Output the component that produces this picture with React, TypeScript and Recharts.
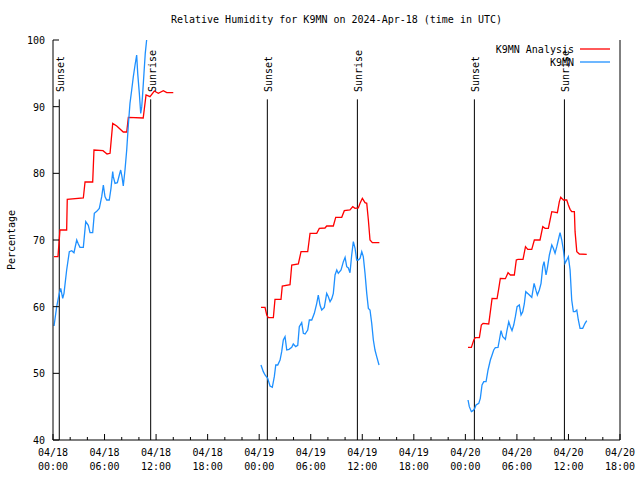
import { LineChart, Line, XAxis, YAxis, ReferenceLine, ReferenceDot, Customized } from 'recharts';

const FONT = '"DejaVu Sans Mono", monospace';
const RED = '#ff0000';
const BLUE = '#1e90ff';

// hours since 2024-04-18 00:00 UTC
const xTicks = [0, 2, 4, 6, 8, 10, 12, 14, 16, 18, 20, 22, 24, 26, 28, 30, 32, 34, 36, 38, 40, 42, 44, 46, 48, 50, 52, 54, 56, 58, 60, 62, 64, 66];
const majorTicks = [0, 6, 12, 18, 24, 30, 36, 42, 48, 54, 60, 66];
const majorDates = ['04/18', '04/18', '04/18', '04/18', '04/19', '04/19', '04/19', '04/19', '04/20', '04/20', '04/20', '04/20'];
const majorTimes = ['00:00', '06:00', '12:00', '18:00', '00:00', '06:00', '12:00', '18:00', '00:00', '06:00', '12:00', '18:00'];
const yTicks = [40, 50, 60, 70, 80, 90, 100];

// K9MN Analysis (red)
const analysisDay1: [number, number][] = [
  [0.12, 67.5], [0.58, 67.5], [0.81, 71.5], [1.59, 71.5], [1.66, 76.1], [3.53, 76.3], [3.73, 78.7], [4.62, 78.7],
  [4.77, 83.5], [5.82, 83.4], [6.29, 82.9], [6.64, 83.0], [6.95, 87.5], [7.42, 87.1], [8.18, 86.2], [8.58, 86.2],
  [8.77, 88.4], [10.5, 88.3], [10.83, 91.75], [11.29, 91.5], [11.79, 92.35], [12.26, 92.0], [12.84, 92.4], [13.24, 92.1], [14.0, 92.1],
];
const analysisDay2: [number, number][] = [
  [24.21, 59.9], [24.68, 59.9], [24.88, 58.75], [25.06, 58.35], [25.65, 58.35], [25.84, 61.1], [26.54, 61.1], [26.69, 63.1],
  [27.59, 63.3], [27.79, 66.25], [28.56, 66.4], [28.87, 68.25], [29.65, 68.25], [29.92, 71], [30.7, 71], [31.0, 71.75],
  [31.66, 71.8], [31.86, 72.1], [32.63, 72.1], [32.91, 73.4], [33.61, 73.4], [33.91, 74.4], [34.57, 74.5], [34.89, 75],
  [35.16, 74.75], [35.54, 74.8], [35.74, 75.5], [36.01, 76.25], [36.32, 75.6], [36.52, 75.5], [36.71, 73], [36.9, 70],
  [37.17, 69.6], [37.99, 69.6],
];
const analysisDay3: [number, number][] = [
  [48.31, 53.9], [48.7, 53.9], [48.98, 55], [49.16, 55.35], [49.63, 55.35], [49.86, 57.25], [50.06, 57.5], [50.72, 57.4],
  [50.91, 59.25], [51.11, 61.25], [51.69, 61.2], [51.89, 62.75], [52.07, 64.25], [52.66, 64.2], [52.97, 65.1], [53.24, 64.75],
  [53.7, 64.75], [53.93, 67], [54.13, 67.1], [54.71, 67.1], [55.0, 69], [55.26, 68.6], [55.73, 68.6], [56.03, 70],
  [56.69, 70], [57.01, 72], [57.28, 71.75], [57.66, 71.75], [57.86, 73], [58.06, 74.25], [58.71, 74.1], [58.94, 75.75],
  [59.1, 76.4], [59.41, 76], [59.8, 76], [59.99, 75.25], [60.19, 74.6], [60.38, 74.25], [60.69, 74.25], [60.77, 71.25],
  [60.97, 68.25], [61.27, 67.9], [62.13, 67.85],
];

// K9MN station (blue)
const stationDay1: [number, number][] = [
  [0.12, 57.1], [0.43, 60], [0.73, 62], [0.9, 62.75], [1.13, 61.25], [1.28, 62], [1.59, 65.5], [1.9, 68.25],
  [2.18, 68.4], [2.44, 68.1], [2.76, 70], [2.95, 69.4], [3.14, 68.9], [3.53, 68.9], [3.81, 72.75], [4.11, 72.2],
  [4.31, 71.1], [4.62, 71.1], [4.81, 74], [5.09, 74.3], [5.39, 74.75], [5.67, 76.5], [5.86, 78.25], [6.05, 76.5],
  [6.25, 76], [6.55, 76], [6.75, 77.75], [6.95, 80.25], [7.02, 79.5], [7.22, 78.5], [7.49, 78.6], [7.72, 79.75],
  [7.88, 80.5], [8.03, 79.5], [8.18, 78.1], [8.38, 80.5], [8.58, 83.5], [8.77, 87.25], [8.96, 90.5], [9.16, 92.5],
  [9.35, 94.5], [9.55, 96.25], [9.74, 97.75], [9.86, 95], [10.05, 92], [10.21, 89], [10.33, 90], [10.44, 92],
  [10.59, 95], [10.74, 98], [10.9, 100], [11.0, 100.6],
];
const stationDay2: [number, number][] = [
  [24.21, 51.25], [24.48, 50.25], [24.68, 49.75], [24.99, 49.25], [25.26, 48.1], [25.53, 47.9], [25.76, 49.5], [25.93, 51.25],
  [26.16, 51.25], [26.43, 52], [26.62, 53.25], [26.81, 55], [27.01, 55.5], [27.21, 53.5], [27.47, 53.6], [27.79, 53.9],
  [27.97, 54.4], [28.25, 54], [28.49, 54.2], [28.67, 57], [28.95, 57.6], [29.14, 56], [29.34, 55.9], [29.65, 56.5],
  [29.84, 58], [30.12, 58], [30.42, 59], [30.7, 60.5], [30.88, 61.75], [31.08, 60.25], [31.28, 59.5], [31.58, 59.9],
  [31.86, 62], [32.05, 61.5], [32.25, 60.75], [32.45, 61.2], [32.63, 62], [32.83, 64.75], [33.03, 65.5], [33.21, 65],
  [33.53, 65.5], [33.8, 66.75], [34.0, 67.4], [34.19, 66], [34.38, 65.8], [34.57, 65.1], [34.77, 67.75], [34.96, 69.75],
  [35.16, 68.75], [35.35, 67], [35.54, 67], [35.74, 67.25], [35.94, 68.25], [36.12, 67.5], [36.32, 65], [36.52, 62],
  [36.71, 59.75], [36.9, 59.5], [37.1, 57.5], [37.29, 55], [37.48, 53.5], [37.68, 52.5], [37.95, 51.25],
];
const stationDay3: [number, number][] = [
  [48.31, 46], [48.46, 45], [48.7, 44.25], [48.89, 44.4], [49.09, 44.75], [49.24, 45.25], [49.56, 45.5], [49.74, 46.25],
  [49.94, 48.25], [50.14, 48.75], [50.41, 48.75], [50.64, 50.5], [50.91, 52], [51.11, 52.75], [51.3, 53.5], [51.49, 53.85],
  [51.8, 53.9], [51.96, 55], [52.15, 56.4], [52.35, 55.5], [52.66, 55.1], [52.85, 56.5], [53.05, 57.75], [53.24, 57],
  [53.43, 56.4], [53.63, 57.25], [53.82, 58.5], [54.02, 60], [54.28, 60.25], [54.48, 58.75], [54.68, 59.25], [54.86, 60.4],
  [55.03, 62.25], [55.33, 61.9], [55.73, 61.4], [56.0, 63.5], [56.23, 62.4], [56.38, 61.75], [56.61, 62.5], [56.81, 63.5],
  [57.01, 66], [57.16, 66.75], [57.39, 64.75], [57.54, 65.75], [57.78, 67.75], [58.06, 69.25], [58.24, 68.75], [58.44, 68],
  [58.64, 69], [58.82, 70], [59.02, 71.1], [59.22, 70], [59.41, 68.5], [59.6, 66.5], [59.8, 67], [59.99, 67.5],
  [60.19, 65.5], [60.38, 61], [60.57, 59.25], [60.77, 59.25], [60.97, 59.5], [61.15, 58], [61.35, 56.75], [61.66, 56.75],
  [61.93, 57.5], [62.13, 57.9],
];

const sunEvents = [
  { t: 0.73, label: 'Sunset' },
  { t: 11.37, label: 'Sunrise' },
  { t: 24.95, label: 'Sunset' },
  { t: 35.43, label: 'Sunrise' },
  { t: 49.05, label: 'Sunset' },
  { t: 59.53, label: 'Sunrise' },
];
const sunLineTop = 91.1;
const sunLabelAt = 92.2;

// join the daily pieces, with a null between them so the line breaks
function toRows(segs: [number, number][][]) {
  const rows: { t: number; v: number | null }[] = [];
  segs.forEach((seg, i) => {
    if (i > 0) {
      const prev = segs[i - 1];
      rows.push({ t: (prev[prev.length - 1][0] + seg[0][0]) / 2, v: null });
    }
    seg.forEach(([t, v]) => rows.push({ t, v }));
  });
  return rows;
}

const analysisRows = toRows([analysisDay1, analysisDay2, analysisDay3]);
const stationRows = toRows([stationDay1, stationDay2, stationDay3]);

function BottomTick({ x, y, payload }: any) {
  const i = majorTicks.indexOf(payload.value);
  const major = i >= 0;
  return (
    <g>
      <line x1={x} y1={y} x2={x} y2={y - (major ? 6 : 3)} stroke="#000" />
      {major && (
        <text x={x} y={y + 16} textAnchor="middle" fontFamily={FONT} fontSize={10} fill="#000">
          <tspan x={x}>{majorDates[i]}</tspan>
          <tspan x={x} dy={14}>{majorTimes[i]}</tspan>
        </text>
      )}
    </g>
  );
}

function TopTick({ x, y, payload }: any) {
  const major = majorTicks.includes(payload.value);
  return <line x1={x} y1={y} x2={x} y2={y + (major ? 6 : 3)} stroke="#000" />;
}

function LeftTick({ x, y, payload }: any) {
  return (
    <g>
      <line x1={x} y1={y} x2={x + 6} y2={y} stroke="#000" />
      <text x={x - 8} y={y + 4} textAnchor="end" fontFamily={FONT} fontSize={10} fill="#000">
        {payload.value}
      </text>
    </g>
  );
}

function RightTick({ x, y }: any) {
  return <line x1={x} y1={y} x2={x - 6} y2={y} stroke="#000" />;
}

function Decorations() {
  return (
    <g fontFamily={FONT} fontSize={10} fill="#000">
      <text x={336.5} y={23} textAnchor="middle">
        Relative Humidity for K9MN on 2024-Apr-18 (time in UTC)
      </text>
      <text x={15} y={240} textAnchor="middle" transform="rotate(-90 15 240)">
        Percentage
      </text>
      <text x={574} y={53} textAnchor="end">K9MN Analysis</text>
      <line x1={580} y1={49} x2={610} y2={49} stroke={RED} strokeWidth={1.3} />
      <text x={574} y={66} textAnchor="end">K9MN</text>
      <line x1={580} y1={62} x2={610} y2={62} stroke={BLUE} strokeWidth={1.3} />
    </g>
  );
}

export default function App() {
  return (
    <div style={{ position: 'absolute', left: 0, top: 0, width: 640, height: 480, background: '#fff' }}>
      <LineChart width={640} height={480} margin={{ top: 40, right: 0, bottom: 0, left: 0 }}>
        <XAxis
          dataKey="t"
          type="number"
          domain={[0, 66]}
          ticks={xTicks}
          interval={0}
          allowDataOverflow
          height={40}
          tickSize={0}
          tickMargin={0}
          tickLine={false}
          axisLine={{ stroke: '#000' }}
          tick={<BottomTick />}
        />
        <XAxis
          xAxisId="top"
          orientation="top"
          dataKey="t"
          type="number"
          domain={[0, 66]}
          ticks={xTicks}
          interval={0}
          height={0}
          tickSize={0}
          tickMargin={0}
          tickLine={false}
          axisLine={{ stroke: '#000' }}
          tick={<TopTick />}
        />
        <YAxis
          type="number"
          domain={[40, 100]}
          ticks={yTicks}
          interval={0}
          allowDataOverflow
          width={53}
          tickSize={0}
          tickMargin={0}
          tickLine={false}
          axisLine={{ stroke: '#000' }}
          tick={<LeftTick />}
        />
        <YAxis
          yAxisId="right"
          orientation="right"
          type="number"
          domain={[40, 100]}
          ticks={yTicks}
          interval={0}
          width={20}
          tickSize={0}
          tickMargin={0}
          tickLine={false}
          axisLine={{ stroke: '#000' }}
          tick={<RightTick />}
        />

        {sunEvents.map((e, i) => (
          <ReferenceLine
            key={`line-${i}`}
            segment={[{ x: e.t, y: 40 }, { x: e.t, y: sunLineTop }]}
            stroke="#000"
            strokeWidth={1}
          />
        ))}
        {sunEvents.map((e, i) => (
          <ReferenceDot
            key={`label-${i}`}
            x={e.t}
            y={sunLabelAt}
            r={0}
            shape={(p: any) => (
              <text
                x={p.cx + 5}
                y={p.cy}
                transform={`rotate(-90 ${p.cx + 5} ${p.cy})`}
                fontFamily={FONT}
                fontSize={10}
                fill="#000"
              >
                {e.label}
              </text>
            )}
          />
        ))}

        <Line
          data={analysisRows}
          dataKey="v"
          type="linear"
          stroke={RED}
          strokeWidth={1.3}
          dot={false}
          activeDot={false}
          connectNulls={false}
          isAnimationActive={false}
        />
        <Line
          data={stationRows}
          dataKey="v"
          type="linear"
          stroke={BLUE}
          strokeWidth={1.3}
          dot={false}
          activeDot={false}
          connectNulls={false}
          isAnimationActive={false}
        />

        <Customized component={Decorations} />
      </LineChart>
    </div>
  );
}
